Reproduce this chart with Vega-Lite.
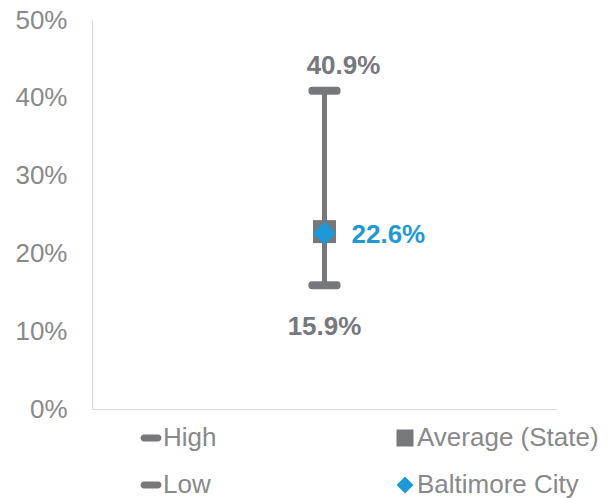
{
  "$schema": "https://vega.github.io/schema/vega-lite/v6.json",
  "width": 465,
  "height": 389,
  "autosize": {"type": "none"},
  "padding": {"left": 92, "top": 20, "right": 57, "bottom": 89},
  "config": {"font": "Liberation Sans", "view": {"stroke": null}},
  "data": {
    "values": [
      {"cat": "Baltimore", "series": "High", "value": 0.409},
      {"cat": "Baltimore", "series": "Low", "value": 0.159},
      {"cat": "Baltimore", "series": "Average (State)", "value": 0.228},
      {"cat": "Baltimore", "series": "Baltimore City", "value": 0.226}
    ]
  },
  "encoding": {
    "x": {
      "field": "cat",
      "type": "nominal",
      "axis": {"labels": false, "ticks": false, "title": null, "domainColor": "#d9d9d9", "domainWidth": 1}
    }
  },
  "layer": [
    {
      "transform": [{"filter": "datum.series === 'High' || datum.series === 'Low'"}],
      "mark": {"type": "rule", "color": "#77787b", "strokeWidth": 5},
      "encoding": {
        "y": {
          "aggregate": "min",
          "field": "value",
          "type": "quantitative",
          "scale": {"domain": [0, 0.5], "nice": false},
          "axis": {
            "values": [0, 0.1, 0.2, 0.3, 0.4, 0.5],
            "format": ".0%",
            "title": null,
            "grid": false,
            "ticks": false,
            "domainColor": "#d9d9d9",
            "domainWidth": 1,
            "labelFontSize": 26,
            "labelColor": "#898989",
            "labelPadding": 25
          }
        },
        "y2": {"aggregate": "max", "field": "value"}
      }
    },
    {
      "transform": [{"filter": "datum.series === 'High' || datum.series === 'Low'"}],
      "mark": {"type": "tick", "color": "#77787b", "size": 32, "thickness": 8, "cornerRadius": 3, "opacity": 1},
      "encoding": {
        "y": {"field": "value", "type": "quantitative"}
      }
    },
    {
      "transform": [{"filter": "datum.series === 'Average (State)' || datum.series === 'Baltimore City'"}],
      "mark": {"type": "point", "filled": true, "opacity": 1, "size": 529, "strokeWidth": 0},
      "encoding": {
        "y": {"field": "value", "type": "quantitative"},
        "color": {
          "field": "series",
          "type": "nominal",
          "scale": {
            "domain": ["High", "Low", "Average (State)", "Baltimore City"],
            "range": ["#77787b", "#77787b", "#77787b", "#1b9ad7"]
          },
          "legend": {
            "orient": "none",
            "legendX": 46,
            "legendY": 405,
            "columns": 2,
            "columnPadding": 175,
            "rowPadding": 21,
            "symbolSize": 289,
            "symbolStrokeWidth": 0,
            "symbolOpacity": 1,
            "labelFontSize": 26,
            "labelColor": "#898989",
            "labelOffset": -1,
            "labelLimit": 400,
            "title": null,
            "padding": 0
          }
        },
        "shape": {
          "field": "series",
          "type": "nominal",
          "scale": {
            "domain": ["High", "Low", "Average (State)", "Baltimore City"],
            "range": [
              "M-0.82,-0.41 L0.82,-0.41 A0.41,0.41 0 0 1 0.82,0.41 L-0.82,0.41 A0.41,0.41 0 0 1 -0.82,-0.41 Z",
              "M-0.82,-0.41 L0.82,-0.41 A0.41,0.41 0 0 1 0.82,0.41 L-0.82,0.41 A0.41,0.41 0 0 1 -0.82,-0.41 Z",
              "square",
              "diamond"
            ]
          },
          "legend": {
            "orient": "none",
            "legendX": 46,
            "legendY": 405,
            "columns": 2,
            "columnPadding": 175,
            "rowPadding": 21,
            "symbolSize": 289,
            "symbolStrokeWidth": 0,
            "symbolOpacity": 1,
            "labelFontSize": 26,
            "labelColor": "#898989",
            "labelOffset": -1,
            "labelLimit": 400,
            "title": null,
            "padding": 0
          }
        }
      }
    },
    {
      "transform": [{"filter": "datum.series === 'High'"}],
      "mark": {"type": "text", "fontSize": 26, "fontWeight": "bold", "color": "#77787b", "dx": 19, "dy": -25, "baseline": "middle"},
      "encoding": {
        "y": {"field": "value", "type": "quantitative"},
        "text": {"field": "value", "type": "quantitative", "format": ".1%"}
      }
    },
    {
      "transform": [{"filter": "datum.series === 'Low'"}],
      "mark": {"type": "text", "fontSize": 26, "fontWeight": "bold", "color": "#77787b", "dx": 0, "dy": 42, "baseline": "middle"},
      "encoding": {
        "y": {"field": "value", "type": "quantitative"},
        "text": {"field": "value", "type": "quantitative", "format": ".1%"}
      }
    },
    {
      "transform": [{"filter": "datum.series === 'Baltimore City'"}],
      "mark": {"type": "text", "fontSize": 26, "fontWeight": "bold", "color": "#1b9ad7", "dx": 27, "dy": 2, "align": "left", "baseline": "middle"},
      "encoding": {
        "y": {"field": "value", "type": "quantitative"},
        "text": {"field": "value", "type": "quantitative", "format": ".1%"}
      }
    }
  ]
}
